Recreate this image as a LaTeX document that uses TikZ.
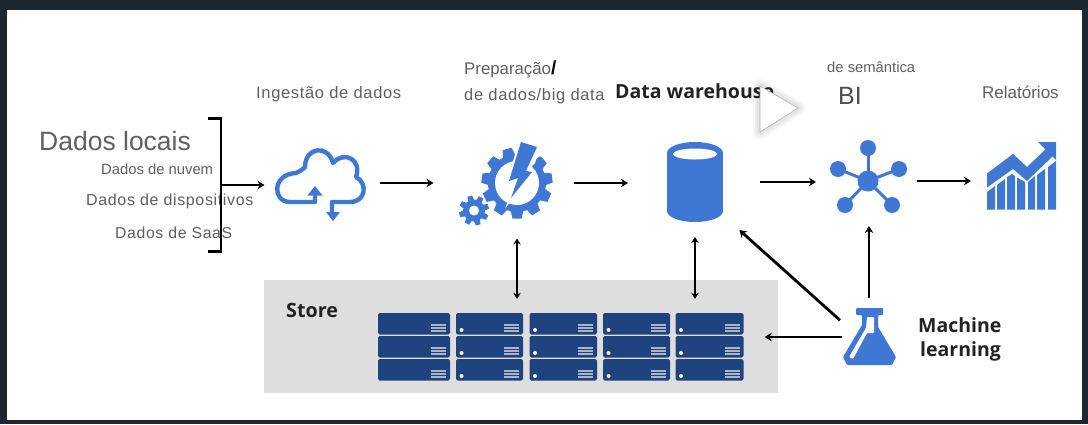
\documentclass[tikz,border=0pt]{standalone}
\usepackage{fontspec}
\setmainfont{Liberation Sans}
\newfontfamily\lblfont[LetterSpace=4]{Liberation Sans}
\newfontfamily\plainfont{Liberation Sans}
\newfontfamily\semifont{Open Sans}
\usetikzlibrary{arrows.meta}
\definecolor{frameC}{HTML}{1E2632}
\definecolor{iconC}{HTML}{3F78D4}
\definecolor{storeC}{HTML}{DEDEDE}
\definecolor{serverC}{HTML}{1F437F}
\definecolor{stripeC}{HTML}{A9B4C6}
\definecolor{textC}{HTML}{5F5F5F}
\definecolor{darkC}{HTML}{222222}
\tikzset{
  flow/.style={line width=2.8pt,-{Stealth[length=7pt,width=8.5pt]},black},
  flowtwo/.style={line width=2.2pt,{Stealth[length=6pt,width=7.5pt]}-{Stealth[length=6pt,width=7.5pt]},black},
  iconbox/.style={inner sep=0pt,outer sep=0pt,minimum width=#1},
  lbl/.style={anchor=base west,inner sep=0pt,text=textC},
  cloudline/.style={draw=iconC,line width=4.4pt,line join=round,line cap=butt},
  server/.style={fill=serverC,rounded corners=1.6pt},
  stripe/.style={draw=stripeC,line width=2pt},
}
\def\toothw{0.13}
\newcommand{\gearshape}[6]{% cx cy outer body hole teeth
  \fill[iconC] (#1,#2) circle[radius=#4];
  \foreach \k in {1,...,#6}{
    \pgfmathsetmacro{\ang}{\k*360/#6+16.4}
    \fill[iconC,rotate around={\ang:(#1,#2)}]
      ({#1-(\toothw+0.04)*#3},{#2}) -- ({#1-(\toothw+0.04)*#3},{#2-#4}) -- ({#1-\toothw*#3},{#2-#3}) -- ({#1+\toothw*#3},{#2-#3}) -- ({#1+(\toothw+0.04)*#3},{#2-#4}) -- ({#1+(\toothw+0.04)*#3},{#2}) -- cycle;
  }
  \fill[white] (#1,#2) circle[radius=#5];
}
\newcommand{\serverunit}[3]{% x1 x2 ytop
  \fill[server] (#1,#3) rectangle (#2,#3+21.5);
  \foreach \d in {11.5,14.5,17.5}{
    \draw[stripe] ({#2-19},{#3+\d}) -- ({#2-4},{#3+\d});
  }
}
\begin{document}
\begin{tikzpicture}[x=1pt,y=-1pt]
\useasboundingbox (0,0) rectangle (1088,424);
\fill[frameC] (0,0) rectangle (1088,424);
\fill[white] (6.5,9.5) rectangle (1082,420);

% store panel and racks
\node[fill=storeC,inner sep=0pt,minimum width=514pt,minimum height=113pt] (store) at (521,336.5) {};
\node[inner sep=0pt,minimum width=365pt,minimum height=68pt] (rack) at (561,347) {};
\foreach \a/\b in {378/450,456/523,529.5/597,603/670,675.5/743.5}{
  \foreach \y in {313,336,359}{
    \serverunit{\a}{\b}{\y}
  }
}
\foreach \a in {456,529.5,603,675.5}{
  \foreach \y in {313,336,359}{
    \fill[white] (\a+5.5,\y+17) circle[radius=2];
  }
}
\node[lbl,text=darkC,font=\semifont\bfseries\fontsize{19.7}{22}\selectfont] (storelabel) at (286,317) {Store};

% icon placeholders
\node[iconbox=91pt,minimum height=72pt] (cloud) at (321,183) {};
\node[iconbox=71pt,minimum height=71pt] (gear) at (517,183) {};
\node[iconbox=56pt,minimum height=80pt] (db) at (695,182) {};
\node[iconbox=76pt,minimum height=66pt] (hub) at (869,181) {};
\node[iconbox=70pt,minimum height=68pt] (chart) at (1021,176) {};
\node[iconbox=54pt,minimum height=58pt] (flask) at (869,337) {};
\node[iconbox=13pt,minimum height=133pt] (bracket) at (214.5,185) {};

% cloud icon
\draw[cloudline] (315,193) -- (315,202) -- (290,202)
  .. controls (272,202) and (272,174) .. (296,173)
  .. controls (300,171) and (302,170) .. (305,167)
  .. controls (305,147) and (328,144) .. (333,163)
  .. controls (345,150) and (362,160) .. (356,177)
  .. controls (368,183) and (366,202) .. (350,202) -- (332,202) -- (332,212);
\fill[iconC] (315,186) -- (307.5,195.5) -- (322.5,195.5) -- cycle;
\fill[iconC] (333,221) -- (326,212) -- (340,212) -- cycle;

% gear icon
\def\toothw{0.13}
\gearshape{517}{183}{35.5}{29}{22}{11}
\def\toothw{0.16}
\gearshape{474}{210.5}{15}{11}{5}{8}
\fill[white] (514,160) -- (524,138) -- (541,146) -- (535,163) -- (524,175) -- cycle;
\filldraw[fill=iconC,draw=white,line width=4pt,line join=miter]
  (521,142) -- (537,147) -- (526,171) -- (532,172) -- (511,198) -- (518,178) -- (509,181) -- cycle;
\fill[iconC] (521,142) -- (537,147) -- (526,171) -- (532,172) -- (511,198) -- (518,178) -- (509,181) -- cycle;

% database icon
\fill[iconC] (667,153) rectangle (723,211);
\fill[iconC] (695,153) ellipse[x radius=28,y radius=11];
\fill[iconC] (695,211) ellipse[x radius=28,y radius=11];
\fill[white] (695,154) ellipse[x radius=22,y radius=5.5];

% hub icon
\foreach \px/\py in {868/148,899/169,838/169,845/205,892/205}{
  \draw[iconC,line width=3pt] (868,181) -- (\px,\py);
  \fill[iconC] (\px,\py) circle[radius=8];
}
\fill[iconC] (868,181) circle[radius=10.5];

% chart icon
\foreach \xa/\ya/\xb/\yb in {987/192/995/186,997/185/1005/179,1017/177.5/1025/182,1028/182/1035/176,1037/175/1045/169,1048/167/1056/161}{
  \fill[iconC] (\xa,\ya) -- (\xb,\yb) -- (\xb,209.5) -- (\xa,209.5) -- cycle;
}
\fill[iconC] (1007,177) -- (1012,174) -- (1015,176) -- (1015,209.5) -- (1007,209.5) -- cycle;
\fill[iconC] (987,173.5) -- (1013,154) -- (1027,167) -- (1048,147) -- (1054,155) -- (1027,181) -- (1013,169) -- (987,187.5) -- cycle;
\fill[iconC] (1038,142) -- (1056,142) -- (1056,160) -- cycle;

% flask icon
\fill[iconC,rounded corners=1pt] (856,308) -- (883,308) -- (883,315) -- (878,315) -- (878,327) -- (896,357) -- (892,365) -- (847,365) -- (843,357) -- (862,325) -- (862,315) -- (856,315) -- cycle;
\fill[white,rounded corners=1pt] (867,317) -- (874,317) -- (874,333) -- (867,333) -- (853,359) -- (849,357) -- (866,328) -- cycle;

% labels
\node[lbl,font=\plainfont\fontsize{26.5}{28}\selectfont] (locais) at (39,150) {Dados locais};
\node[lbl,font=\plainfont\fontsize{14.8}{16}\selectfont] (nuvem) at (101,174) {Dados de nuvem};
\node[lbl,font=\lblfont\fontsize{16}{18}\selectfont] (dispositivos) at (86,205) {Dados de dispositivos};
\node[lbl,font=\lblfont\fontsize{15.8}{18}\selectfont] (saas) at (115,238) {Dados de SaaS};
\node[lbl,font=\lblfont\fontsize{16.5}{18}\selectfont] (ingestao) at (256,98) {Ingestão de dados};
\node[lbl,font=\plainfont\fontsize{16.8}{18}\selectfont] (prep) at (464,74) {Preparação\textcolor{black}{\bfseries\fontsize{19}{20}\selectfont/}};
\node[lbl,font=\lblfont\fontsize{16.5}{18}\selectfont] (prepb) at (464,100) {de dados/big data};
\node[lbl,text=darkC,font=\semifont\bfseries\fontsize{19.5}{22}\selectfont] (dw) at (615,98) {Data warehouse};
\node[lbl,font=\plainfont\fontsize{14.8}{16}\selectfont] (sem) at (827,72) {de semântica};
\node[lbl,text=darkC!80!white,font=\plainfont\fontsize{25}{28}\selectfont] (bi) at (838,104) {BI};
\node[lbl,font=\plainfont\fontsize{17}{18}\selectfont] (rel) at (982,98) {Relatórios};
\node[lbl,text=darkC,font=\semifont\bfseries\fontsize{19.5}{22}\selectfont] (ml) at (918,332) {Machine};
\node[lbl,text=darkC,font=\semifont\bfseries\fontsize{19.5}{22}\selectfont] (mlb) at (920,356) {learning};

% bracket
\draw[black,line width=2.6pt,line join=miter] (bracket.north west) -- (bracket.north east) -- (bracket.south east) -- (bracket.south west);

% connectors
\draw[flow,shorten >=11pt] (bracket.east) -- (bracket.east -| cloud.west);
\draw[flow,shorten <=13pt,shorten >=48pt] (cloud.east) -- (gear.west);
\draw[flow,shorten <=21pt,shorten >=39pt] (gear.east) -- (gear.east -| db.west);
\draw[flow,shorten <=37pt,shorten >=15pt] (db.east) -- (db.east -| hub.west);
\draw[flow,shorten <=10pt,shorten >=15pt] (hub.east) -- (hub.east -| chart.west);
\draw[flowtwo,shorten <=20pt,shorten >=14pt] (gear.south) -- (gear.south |- rack.north);
\draw[flowtwo,shorten <=15pt,shorten >=14pt] (db.south) -- (db.south |- rack.north);
\draw[flow,shorten <=10pt,shorten >=12pt] (flask.north) -- (hub.south);
\draw[flow,shorten <=2.7pt,shorten >=22pt] (flask.151) -- (db.-50);
\draw[flow,shorten >=21pt] (flask.west) -- (flask.west -| rack.east);

% play overlay
\foreach \w in {14,10,6}{
  \draw[black,opacity=0.035,line width=\w pt,line join=round] (760,86) -- (798,108) -- (760,132) -- cycle;
}
\filldraw[fill=white,draw=black!30,line width=0.6pt,line join=round] (760,86) -- (798,108) -- (760,132) -- cycle;
\end{tikzpicture}
\end{document}
